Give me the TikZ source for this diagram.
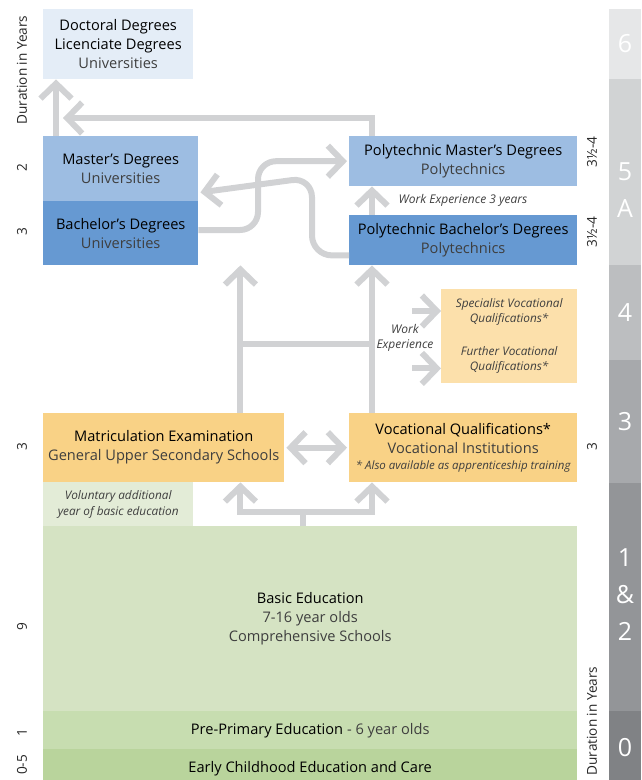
\documentclass[tikz,border=0pt]{standalone}
\usepackage{fontspec}
\setmainfont{Open Sans}
\usetikzlibrary{arrows.meta}
\definecolor{docblue}{HTML}{E4EDF7}
\definecolor{masblue}{HTML}{9DBDE2}
\definecolor{bacblue}{HTML}{6699D2}
\definecolor{specorange}{HTML}{FCE0AB}
\definecolor{secorange}{HTML}{F9D286}
\definecolor{volgreen}{HTML}{E3ECD7}
\definecolor{basgreen}{HTML}{D5E3C3}
\definecolor{pregreen}{HTML}{C7DDB0}
\definecolor{earlygreen}{HTML}{B9D49C}
\definecolor{arrowgray}{HTML}{D1D2D4}
\definecolor{subtext}{HTML}{3E3E3E}
\definecolor{levA}{HTML}{E6E7E8}
\definecolor{levB}{HTML}{D1D3D4}
\definecolor{levC}{HTML}{BCBEC0}
\definecolor{levD}{HTML}{A7A9AC}
\definecolor{levE}{HTML}{939598}
\definecolor{levF}{HTML}{808285}
\newcommand{\Levels}{
    \fill[levA] (609,9) rectangle (641,79);
    \fill[levB] (609,79) rectangle (641,265);
    \fill[levC] (609,265) rectangle (641,360);
    \fill[levD] (609,360) rectangle (641,483);
    \fill[levE] (609,483) rectangle (641,711);
    \fill[levF] (609,711) rectangle (641,790);
    \node[levnum] (n6) at (625,44) {6};
    \node[levnum] (n5) at (625,190) {5\\A};
    \node[levnum] (n4) at (625,313) {4};
    \node[levnum] (n3) at (625,422) {3};
    \node[levnum] (n12) at (625,595) {1\\\&\\2};
    \node[levnum] (n0) at (625,748) {0};
}
\tikzset{
    box/.style={anchor=north west, inner sep=0pt, align=center, font=\fontsize{14.6}{19}\selectfont},
    flow/.style={draw=arrowgray, line width=6pt, -{Straight Barb[length=15pt,width=31pt]}},
    twoway/.style={draw=arrowgray, line width=6pt, {Straight Barb[length=15pt,width=31pt]}-{Straight Barb[length=15pt,width=31pt]}},
    dur/.style={rotate=90, font=\fontsize{13.6}{15}\selectfont, text=black!85},
    note/.style={font=\fontsize{12}{15}\selectfont\itshape, text=subtext, align=center},
    levnum/.style={text=white, align=center, font=\fontsize{25}{37}\selectfont},
}
\newcommand{\sub}[1]{{\color{subtext}#1}}
\begin{document}
\begin{tikzpicture}[x=1pt,y=-1pt]
    \useasboundingbox (0,0) rectangle (641,780);
    \Levels
    \node[box, fill=docblue, minimum width=150, minimum height=70] (doc) at (43,9) {Doctoral Degrees\\Licenciate Degrees\\\sub{Universities}};
    \node[box, fill=masblue, minimum width=155, minimum height=65] (mas) at (43,136) {Master’s Degrees\\\sub{Universities}};
    \node[box, fill=bacblue, minimum width=155, minimum height=64] (bac) at (43,201) {Bachelor’s Degrees\\\sub{Universities}};
    \node[box, fill=masblue, minimum width=228, minimum height=50] (pmas) at (349,136) {Polytechnic Master’s Degrees\\\sub{Polytechnics}};
    \node[box, fill=bacblue, minimum width=228, minimum height=50] (pbac) at (349,215) {Polytechnic Bachelor’s Degrees\\\sub{Polytechnics}};
    \node[box, fill=specorange, minimum width=136, minimum height=94, text=subtext, font=\fontsize{11.8}{15}\selectfont\itshape] (spec) at (441,289) {Specialist Vocational\\Qualifications*\\[18pt]Further Vocational\\Qualifications*};
    \node[box, fill=secorange, minimum width=241, minimum height=69] (mat) at (43,413) {Matriculation Examination\\\sub{General Upper Secondary Schools}};
    \node[box, fill=secorange, minimum width=228, minimum height=69] (voc) at (349,413) {Vocational Qualifications*\\\sub{Vocational Institutions}\\[-3pt]{\fontsize{11.5}{13}\selectfont\itshape\sub{* Also available as apprenticeship training}}};
    \node[box, fill=volgreen, minimum width=150, minimum height=44, font=\fontsize{11.8}{15.5}\selectfont\itshape] (vol) at (43,482) {\sub{Voluntary additional}\\\sub{year of basic education}};
    \node[box, fill=basgreen, minimum width=534, minimum height=185] (basic) at (43,526) {Basic Education\\\sub{7-16 year olds}\\\sub{Comprehensive Schools}};
    \node[box, fill=pregreen, minimum width=534, minimum height=38] (pre) at (43,711) {Pre-Primary Education \sub{- 6 year olds}};
    \node[box, fill=earlygreen, minimum width=534, minimum height=39] (early) at (43,749) {Early Childhood Education and Care};
    \node[note] (we3) at (463,200) {Work Experience 3 years};
    \node[note] (we) at (405,338) {Work\\Experience};
    \node[dur] (dl) at (22,70) {Duration in Years};
    \node[dur] (dl2) at (22,168) {2};
    \node[dur] (dl3) at (22,232) {3};
    \node[dur] (dl4) at (22,447) {3};
    \node[dur] (dl5) at (22,627) {9};
    \node[dur] (dl6) at (22,733) {1};
    \node[dur] (dl7) at (22,765) {0-5};
    \node[dur] (dr1) at (592,152) {3½-4};
    \node[dur] (dr2) at (592,232) {3½-4};
    \node[dur] (dr3) at (592,447) {3};
    \node[dur] (dr) at (592,721) {Duration in Years};
    \coordinate (toprow) at (0,118);
    \coordinate (midrow) at (0,344);
    \coordinate (lowrow) at (0,512);
    \draw[flow] ([xshift=13pt]mas.north west) -- ([xshift=13pt]mas.north west |- doc.south);
    \draw[flow] ([xshift=23pt]pmas.north west) |- ([xshift=20pt]mas.north west |- toprow);
    \draw[flow, rounded corners=18pt] ([yshift=-29pt]bac.north east) -| ([xshift=-91pt]pmas.west) -- ([xshift=-2pt]pmas.west);
    \draw[flow, rounded corners=20pt] ([yshift=10pt]pbac.south west) -| ([xshift=-37pt,yshift=9pt]pmas.south west) -- ([xshift=2pt,yshift=9pt]mas.south east);
    \draw[flow] ([xshift=23pt]pbac.north west) -- ([xshift=23pt]pmas.south west);
    \draw[flow] ([xshift=-44pt]mat.north east) -- ([xshift=-44pt]mat.north east |- bac.south);
    \draw[flow] ([xshift=23pt]voc.north west) -- ([xshift=23pt]pbac.south west);
    \draw[draw=arrowgray, line width=6pt] ([xshift=-44pt]mat.north east |- midrow) -- ([xshift=23pt]voc.north west |- midrow);
    \draw[flow] ([xshift=-29pt,yshift=-22pt]spec.north west) -- ([yshift=-22pt]spec.north west);
    \draw[flow] ([xshift=-29pt,yshift=15pt]spec.south west) -- ([yshift=15pt]spec.south west);
    \draw[twoway] ([xshift=2pt]mat.east) -- ([xshift=-2pt]voc.west);
    \draw[draw=arrowgray, line width=6pt] ([xshift=260pt]basic.north west) -- ([xshift=260pt]basic.north west |- lowrow);
    \draw[twoway] ([xshift=-44pt]mat.south east) |- ([xshift=23pt]voc.south west |- lowrow) -- ([xshift=23pt]voc.south west);
\end{tikzpicture}
\end{document}
